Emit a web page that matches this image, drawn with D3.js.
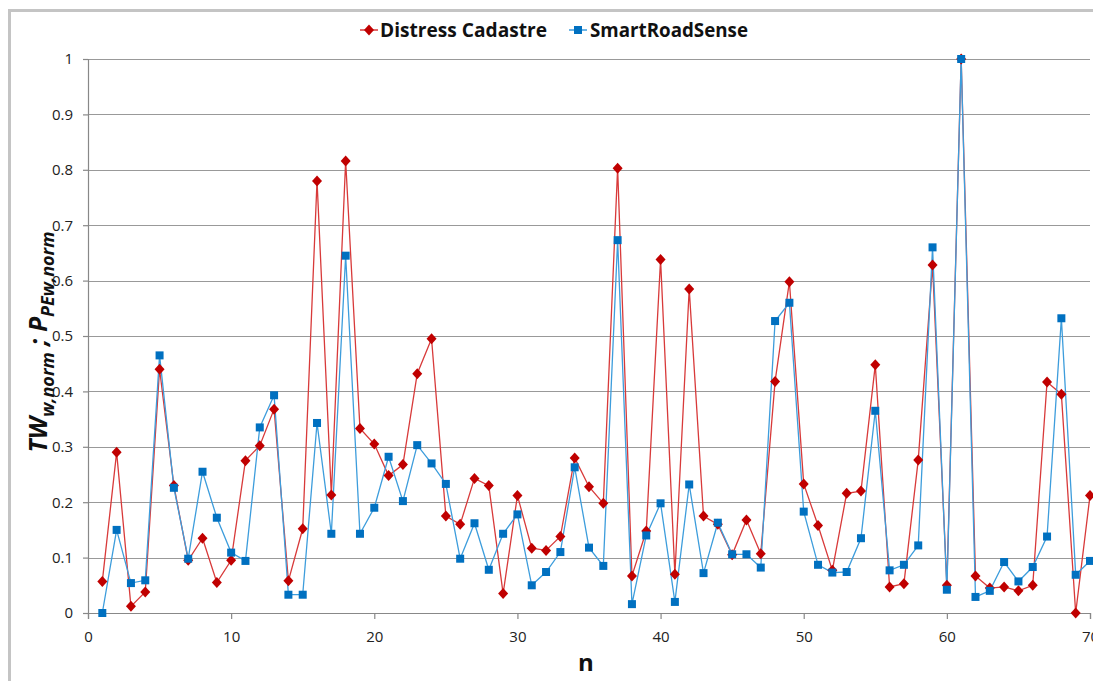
<!DOCTYPE html>
<html>
<head>
<meta charset="utf-8">
<script src="https://d3js.org/d3.v7.min.js"></script>
<style>
  body { margin: 0; background: #fff; }
  text { font-family: "Open Sans", "Noto Sans", sans-serif; }
</style>
</head>
<body>
<script>
// data
var nValues = d3.range(1, 71);
var distress = [0.057, 0.29, 0.012, 0.038, 0.44, 0.23, 0.095, 0.135, 0.055, 0.095,
                0.275, 0.302, 0.368, 0.058, 0.152, 0.78, 0.213, 0.816, 0.333, 0.305,
                0.248, 0.268, 0.432, 0.495, 0.175, 0.16, 0.243, 0.23, 0.035, 0.212,
                0.117, 0.113, 0.138, 0.28, 0.228, 0.198, 0.803, 0.067, 0.148, 0.638,
                0.07, 0.585, 0.175, 0.16, 0.105, 0.168, 0.107, 0.418, 0.598, 0.233,
                0.158, 0.077, 0.216, 0.22, 0.448, 0.047, 0.053, 0.276, 0.628, 0.05,
                1.0, 0.067, 0.045, 0.047, 0.04, 0.05, 0.417, 0.395, 0.0, 0.212];
var smartRoad = [0.0, 0.15, 0.054, 0.059, 0.465, 0.226, 0.098, 0.255, 0.172, 0.109,
                 0.094, 0.335, 0.393, 0.033, 0.033, 0.343, 0.143, 0.645, 0.143, 0.19,
                 0.282, 0.202, 0.303, 0.27, 0.233, 0.098, 0.162, 0.078, 0.143, 0.178,
                 0.05, 0.074, 0.11, 0.263, 0.118, 0.085, 0.673, 0.016, 0.14, 0.198,
                 0.02, 0.232, 0.072, 0.163, 0.106, 0.106, 0.082, 0.527, 0.56, 0.183,
                 0.087, 0.073, 0.074, 0.135, 0.365, 0.077, 0.087, 0.122, 0.66, 0.042,
                 1.0, 0.029, 0.04, 0.092, 0.057, 0.083, 0.138, 0.532, 0.069, 0.094];
var xTicks = [0, 10, 20, 30, 40, 50, 60, 70];
var yTicks = [0, 0.1, 0.2, 0.3, 0.4, 0.5, 0.6, 0.7, 0.8, 0.9, 1];

var W = 1093, H = 681;
var margin = {top: 59, left: 88, right: 3, bottom: 68};

var svg = d3.select("body").append("svg")
    .attr("width", W)
    .attr("height", H);

// outer chart frame
svg.append("rect")
    .attr("x", 9.5).attr("y", 10.5)
    .attr("width", W + 20).attr("height", H + 20)
    .attr("fill", "none")
    .attr("stroke", "#c4c4c4")
    .attr("stroke-width", 3);

var x = d3.scaleLinear().domain([0, 70]).range([margin.left, 1090]);
var y = d3.scaleLinear().domain([0, 1]).range([613, 59]);

// gridlines
svg.append("g")
    .selectAll("line")
    .data(yTicks.slice(1))
    .enter().append("line")
    .attr("x1", margin.left).attr("x2", 1090)
    .attr("y1", function(d){ return Math.round(y(d)) + 0.5; })
    .attr("y2", function(d){ return Math.round(y(d)) + 0.5; })
    .attr("stroke", "#999")
    .attr("stroke-width", 1.2);

// y axis
var yAxis = svg.append("g")
    .attr("transform", "translate(" + margin.left + ",0)")
    .call(d3.axisLeft(y).tickValues(yTicks).tickSize(5).tickPadding(10)
          .tickFormat(function(d){ return d3.format("")(+d.toFixed(1)); }));
// x axis
var xAxis = svg.append("g")
    .attr("transform", "translate(0," + y(0) + ")")
    .call(d3.axisBottom(x).tickValues(xTicks).tickSize(6).tickPadding(10));

[yAxis, xAxis].forEach(function(ax){
    ax.select(".domain").attr("stroke", "#888").attr("stroke-width", 1.2);
    ax.selectAll(".tick line").attr("stroke", "#888").attr("stroke-width", 1.2);
    ax.selectAll(".tick text").attr("font-size", 15).attr("fill", "#222")
      .attr("font-family", "'Open Sans', sans-serif");
});
xAxis.selectAll(".tick text").attr("dy", "0.85em");

// series
var line = d3.line()
    .x(function(d, i){ return x(nValues[i]); })
    .y(function(d){ return y(d); });

svg.append("path")
    .datum(distress)
    .attr("d", line)
    .attr("fill", "none")
    .attr("stroke", "#d83a3a")
    .attr("stroke-width", 1.3);

svg.append("path")
    .datum(smartRoad)
    .attr("d", line)
    .attr("fill", "none")
    .attr("stroke", "#3d9ddc")
    .attr("stroke-width", 1.3);

var diamond = "M0,-5.5L5,0L0,5.5L-5,0Z";

svg.append("g").selectAll("path")
    .data(distress)
    .enter().append("path")
    .attr("d", diamond)
    .attr("transform", function(d, i){ return "translate(" + x(nValues[i]) + "," + y(d) + ")"; })
    .attr("fill", "#c00000");

svg.append("g").selectAll("rect")
    .data(smartRoad)
    .enter().append("rect")
    .attr("x", function(d, i){ return x(nValues[i]) - 4; })
    .attr("y", function(d){ return y(d) - 4; })
    .attr("width", 8).attr("height", 8)
    .attr("fill", "#0070c0");

// legend
var legend = svg.append("g");
legend.append("line").attr("x1", 360).attr("x2", 378).attr("y1", 30).attr("y2", 30)
    .attr("stroke", "#d83a3a").attr("stroke-width", 1.5);
legend.append("path").attr("d", diamond).attr("transform", "translate(369,30)").attr("fill", "#c00000");
legend.append("text").attr("x", 380).attr("y", 37).text("Distress Cadastre")
    .attr("font-size", 19).attr("font-weight", "bold").attr("fill", "#111")
    .attr("textLength", 167).attr("lengthAdjust", "spacingAndGlyphs");

legend.append("line").attr("x1", 569).attr("x2", 587).attr("y1", 30).attr("y2", 30)
    .attr("stroke", "#3d9ddc").attr("stroke-width", 1.5);
legend.append("rect").attr("x", 574).attr("y", 26).attr("width", 8).attr("height", 8).attr("fill", "#0070c0");
legend.append("text").attr("x", 590).attr("y", 37).text("SmartRoadSense")
    .attr("font-size", 19).attr("font-weight", "bold").attr("fill", "#111")
    .attr("textLength", 158).attr("lengthAdjust", "spacingAndGlyphs");

// axis titles
svg.append("text")
    .attr("x", (x(0) + x(70)) / 2 - 3).attr("y", 671)
    .attr("text-anchor", "middle")
    .attr("font-size", 24).attr("font-weight", "bold").attr("fill", "#111")
    .text("n");

var yt = svg.append("text")
    .attr("transform", "translate(47,342) rotate(-90)")
    .attr("text-anchor", "middle")
    .attr("font-size", 25).attr("font-weight", "bold").attr("font-style", "italic")
    .attr("fill", "#111");
yt.append("tspan").text("TW");
yt.append("tspan").attr("font-size", 18).attr("dy", 7).text("w,norm");
yt.append("tspan").attr("dy", -7).text(" ; P");
yt.append("tspan").attr("font-size", 18).attr("dy", 7).text("PEw,norm");
</script>
</body>
</html>
